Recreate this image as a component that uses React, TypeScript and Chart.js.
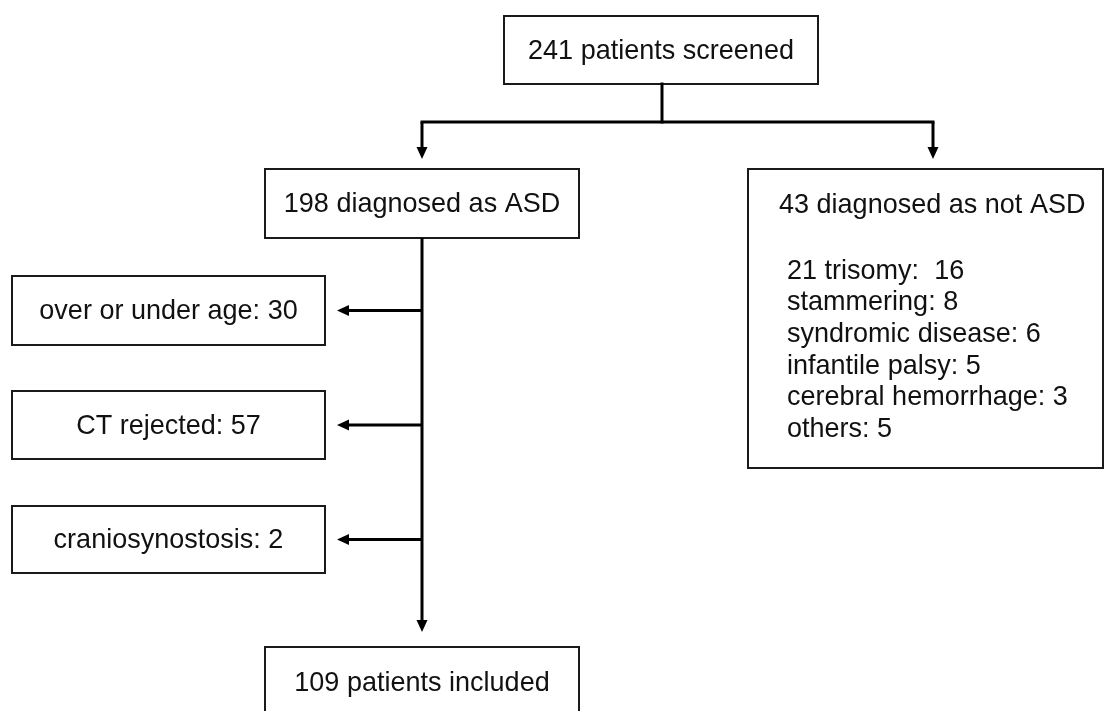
import React, { useEffect, useRef } from "react";
import { Chart, registerables } from "chart.js";
Chart.register(...registerables);

// ---- data ----
const screenedCount = 241;
const asdCount = 198;
const notAsdCount = 43;
const includedCount = 109;
const exclusionReasons = ["over or under age", "CT rejected", "craniosynostosis"];
const exclusionCounts = [30, 57, 2];
const notAsdReasons = ["21 trisomy", "stammering", "syndromic disease", "infantile palsy", "cerebral hemorrhage", "others"];
const notAsdCounts = [16, 8, 6, 5, 3, 5];

// ---- layout (in scale units) ----
const W = 1105;
const H = 711;
const topBox = { x0: 504, x1: 818, y0: 16, y1: 84 };
const asdBox = { x0: 265, x1: 579, y0: 169, y1: 238 };
const notAsdBox = { x0: 748, x1: 1103, y0: 169, y1: 468 };
const exclBoxX = { x0: 12, x1: 325 };
const exclBoxY = [
  { y0: 276, y1: 345 },
  { y0: 391, y1: 459 },
  { y0: 506, y1: 573 },
];
const inclBox = { x0: 265, x1: 579, y0: 647, y1: 760 };
const splitY = 122;
const stemX = 662;
const leftX = 422;
const rightX = 933;
const mainArrowTip = 632;
const exclArrowTip = 337;
const notAsdTitleX = 779;
const notAsdTitleY = 204;
const notAsdListX = 787;
const notAsdListY0 = 270;
const notAsdListStep = 31.6;
const includedTextY = 682;

const FONT = '28px "Liberation Sans", Arial, sans-serif';
const SCALE_X = 0.965;
const INK = "#111";

const flowPlugin = {
  id: "flow",
  afterDraw(chart: any) {
    const ctx = chart.ctx as CanvasRenderingContext2D;
    const xs = chart.scales.x;
    const ys = chart.scales.y;
    const px = (v: number) => xs.getPixelForValue(v);
    const py = (v: number) => ys.getPixelForValue(v);

    ctx.save();
    ctx.fillStyle = "#fff";
    ctx.fillRect(0, 0, chart.width, chart.height);

    const rect = (b: { x0: number; x1: number; y0: number; y1: number }) => {
      ctx.lineWidth = 2;
      ctx.strokeStyle = "#1a1a1a";
      const x = px(b.x0), y = py(b.y0);
      ctx.strokeRect(x, y, px(b.x1) - x, py(b.y1) - y);
    };
    const text = (s: string, x: number, y: number, align: CanvasTextAlign = "center") => {
      ctx.save();
      ctx.font = FONT;
      ctx.fillStyle = INK;
      ctx.textAlign = align;
      ctx.textBaseline = "middle";
      ctx.translate(px(x), py(y) + 1);
      ctx.scale(SCALE_X, 1);
      ctx.fillText(s, 0, 0);
      ctx.restore();
    };
    const line = (x0: number, y0: number, x1: number, y1: number) => {
      ctx.lineWidth = 3;
      ctx.strokeStyle = "#000";
      ctx.lineCap = "square";
      ctx.beginPath();
      ctx.moveTo(px(x0), py(y0));
      ctx.lineTo(px(x1), py(y1));
      ctx.stroke();
    };
    const arrow = (x0: number, y0: number, x1: number, y1: number) => {
      const X0 = px(x0), Y0 = py(y0), X1 = px(x1), Y1 = py(y1);
      const ang = Math.atan2(Y1 - Y0, X1 - X0);
      const hl = 12, hw = 5.5;
      const bx = X1 - hl * Math.cos(ang), by = Y1 - hl * Math.sin(ang);
      ctx.lineWidth = 3;
      ctx.strokeStyle = "#000";
      ctx.lineCap = "butt";
      ctx.beginPath();
      ctx.moveTo(X0, Y0);
      ctx.lineTo(bx, by);
      ctx.stroke();
      ctx.fillStyle = "#000";
      ctx.beginPath();
      ctx.moveTo(X1, Y1);
      ctx.lineTo(bx + hw * Math.sin(ang), by - hw * Math.cos(ang));
      ctx.lineTo(bx - hw * Math.sin(ang), by + hw * Math.cos(ang));
      ctx.closePath();
      ctx.fill();
    };

    // boxes
    rect(topBox);
    text(`${screenedCount} patients screened`, (topBox.x0 + topBox.x1) / 2, (topBox.y0 + topBox.y1) / 2);
    rect(asdBox);
    text(`${asdCount} diagnosed as ASD`, (asdBox.x0 + asdBox.x1) / 2, (asdBox.y0 + asdBox.y1) / 2);
    rect(notAsdBox);
    text(`${notAsdCount} diagnosed as not ASD`, notAsdTitleX, notAsdTitleY, "left");
    notAsdReasons.forEach((r, i) => {
      const sep = i === 0 ? ":  " : ": ";
      text(`${r}${sep}${notAsdCounts[i]}`, notAsdListX, notAsdListY0 + i * notAsdListStep, "left");
    });
    exclusionReasons.forEach((r, i) => {
      const b = { ...exclBoxX, ...exclBoxY[i] };
      rect(b);
      text(`${r}: ${exclusionCounts[i]}`, (b.x0 + b.x1) / 2, (b.y0 + b.y1) / 2);
      arrow(leftX, (b.y0 + b.y1) / 2, exclArrowTip, (b.y0 + b.y1) / 2);
    });
    rect(inclBox);
    text(`${includedCount} patients included`, (inclBox.x0 + inclBox.x1) / 2, includedTextY);

    // connectors
    line(stemX, topBox.y1, stemX, splitY);
    line(leftX, splitY, rightX, splitY);
    arrow(leftX, splitY, leftX, asdBox.y0 - 10);
    arrow(rightX, splitY, rightX, notAsdBox.y0 - 10);
    arrow(leftX, asdBox.y1, leftX, mainArrowTip);

    ctx.restore();
  },
};

export default function App() {
  const ref = useRef<HTMLCanvasElement | null>(null);
  useEffect(() => {
    document.body.style.margin = "0";
    const chart = new Chart(ref.current as HTMLCanvasElement, {
      type: "scatter",
      data: { datasets: [{ data: [], pointRadius: 0 }] },
      options: {
        animation: false,
        responsive: false,
        devicePixelRatio: 1,
        layout: { padding: 0 },
        plugins: { legend: { display: false }, tooltip: { enabled: false } },
        scales: {
          x: { type: "linear", min: 0, max: W, display: false },
          y: { type: "linear", min: 0, max: H, reverse: true, display: false },
        },
      },
      plugins: [flowPlugin],
    });
    return () => chart.destroy();
  }, []);
  return (
    <div style={{ position: "absolute", left: 0, top: 0, width: W, height: H, background: "#fff" }}>
      <canvas ref={ref} width={W} height={H} style={{ display: "block" }} />
    </div>
  );
}
